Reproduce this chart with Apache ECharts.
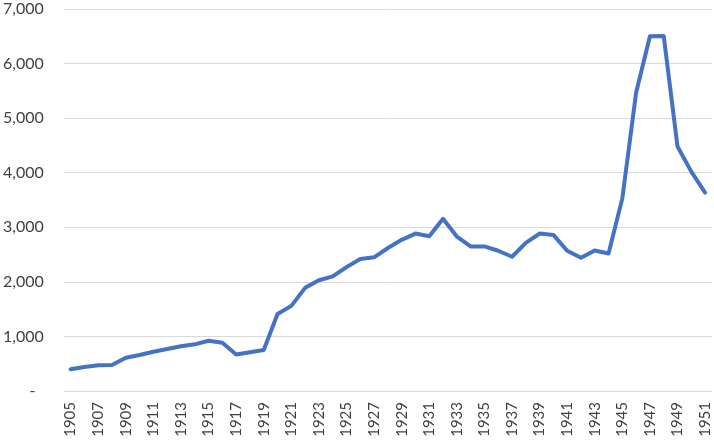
<!DOCTYPE html>
<html>
<head>
<meta charset="utf-8">
<script src="https://cdn.jsdelivr.net/npm/echarts@6/dist/echarts.min.js"></script>
<style>
  html, body { margin: 0; padding: 0; background: #fff; }
  #chart { width: 714px; height: 441px; }
</style>
</head>
<body>
<div id="chart"></div>
<script>
// years 1905..1951
var years = [];
for (var y = 1905; y <= 1951; y++) years.push(String(y));

var values = [
  400, 440, 470, 475, 610, 660, 720, 770, 820, 855,
  920, 885, 670, 710, 750, 1410, 1560, 1890, 2030, 2100,
  2270, 2420, 2450, 2620, 2770, 2885, 2835, 3155, 2830, 2650,
  2650, 2570, 2460, 2715, 2885, 2860, 2570, 2440, 2575, 2520,
  3530, 5470, 6500, 6505, 4480, 4020, 3635
];

var yTicks = { min: 0, max: 7000, step: 1000 };

var myChart = echarts.init(document.getElementById('chart'));
myChart.setOption({
  animation: false,
  textStyle: { fontFamily: 'Lato' },
  grid: { left: 63, right: 2, top: 9, bottom: 50 },
  xAxis: {
    type: 'category',
    data: years,
    boundaryGap: true,
    axisLine: { show: false },
    axisTick: { show: false },
    axisLabel: {
      interval: 1,
      rotate: 90,
      margin: 11,
      color: '#404040',
      fontSize: 15,
      fontFamily: 'Lato'
    }
  },
  yAxis: {
    type: 'value',
    min: yTicks.min,
    max: yTicks.max,
    interval: yTicks.step,
    axisLine: { show: false },
    axisTick: { show: false },
    splitLine: { lineStyle: { color: '#d9d9d9', width: 1 } },
    axisLabel: {
      margin: 20,
      color: '#404040',
      fontSize: 16,
      fontFamily: 'Lato',
      formatter: function (v) {
        if (v === 0) return '-  ';
        return v.toLocaleString('en-US');
      }
    }
  },
  series: [{
    type: 'line',
    data: values,
    symbol: 'none',
    lineStyle: { color: '#4472C4', width: 4, cap: 'round', join: 'round' }
  }]
});
</script>
</body>
</html>
